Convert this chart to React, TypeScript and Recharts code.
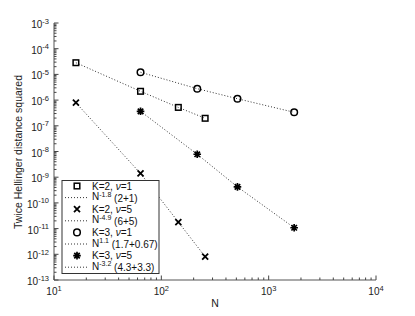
import { ScatterChart, Scatter, XAxis, YAxis } from "recharts";

// N values used for each K
const nK2 = [16, 64, 144, 256];
const nK3 = [64, 216, 512, 1728];

// twice Hellinger distance squared
const k2nu1 = [2.85e-5, 2.2e-6, 5.2e-7, 1.96e-7];
const k2nu5 = [7.9e-7, 1.4e-9, 1.8e-11, 8.1e-13];
const k3nu1 = [1.21e-5, 2.78e-6, 1.13e-6, 3.35e-7];
const k3nu5 = [3.66e-7, 7.8e-9, 4.2e-10, 1.08e-11];

// legend text
const seriesNames = ["K=2, |=1", "K=2, |=5", "K=3, |=1", "K=3, |=5"];
const fitExponents = ["-1.8", "-4.9", "1.1", "-3.2"];
const fitCoeffs = ["(2+1)", "(6+5)", "(1.7+0.67)", "(4.3+3.3)"];
const markerKinds = ["square", "cross", "circle", "star"];

// axis decades
const xDecades = [1, 2, 3, 4];
const yDecades = [-13, -12, -11, -10, -9, -8, -7, -6, -5, -4, -3];

const FONT = "'Liberation Sans', Arial, Helvetica, sans-serif";
const INK = "#000";

const logTicks = (decades: number[]) => {
  const out: number[] = [];
  decades.forEach((d, i) => {
    out.push(Math.pow(10, d));
    if (i < decades.length - 1) {
      for (let m = 2; m <= 9; m++) out.push(m * Math.pow(10, d));
    }
  });
  return out;
};
const xTicks = logTicks(xDecades);
const yTicks = logTicks(yDecades);

const isMajor = (v: number) => {
  const l = Math.log10(v);
  return Math.abs(l - Math.round(l)) < 1e-6;
};

const toData = (ns: number[], vs: number[]) => ns.map((n, i) => ({ N: n, v: vs[i] }));

const Marker = ({ cx, cy, kind }: { cx: number; cy: number; kind: string }) => {
  if (kind === "square")
    return <rect x={cx - 2.8} y={cy - 2.8} width={5.6} height={5.6} fill="none" stroke={INK} strokeWidth={1.5} />;
  if (kind === "circle") return <circle cx={cx} cy={cy} r={3.3} fill="none" stroke={INK} strokeWidth={1.5} />;
  if (kind === "cross")
    return (
      <path
        d={`M${cx - 3},${cy - 3}L${cx + 3},${cy + 3}M${cx - 3},${cy + 3}L${cx + 3},${cy - 3}`}
        stroke={INK}
        strokeWidth={1.8}
      />
    );
  const r = 3.8;
  const d = r * 0.72;
  return (
    <path
      d={`M${cx - r},${cy}L${cx + r},${cy}M${cx},${cy - r}L${cx},${cy + r}M${cx - d},${cy - d}L${cx + d},${cy + d}M${cx - d},${cy + d}L${cx + d},${cy - d}`}
      stroke={INK}
      strokeWidth={1.7}
    />
  );
};

const PowLabel = ({ x, y, exp, anchor }: any) => (
  <text x={x} y={y} textAnchor={anchor} fontFamily={FONT} fill="#222">
    <tspan fontSize={10}>10</tspan>
    <tspan fontSize={7.5} dy={-4.5}>
      {exp}
    </tspan>
  </text>
);

const BottomTick = (props: any) => {
  const { x, y, payload } = props;
  const major = isMajor(payload.value);
  return (
    <g>
      <line x1={x} y1={y} x2={x} y2={y - (major ? 4.5 : 2.5)} stroke="#444" />
      {major && <PowLabel x={x} y={y + 15} exp={Math.round(Math.log10(payload.value))} anchor="middle" />}
    </g>
  );
};

const TopTick = (props: any) => {
  const { x, y, payload } = props;
  const major = isMajor(payload.value);
  return <line x1={x} y1={y} x2={x} y2={y + (major ? 4.5 : 2.5)} stroke="#444" />;
};

const LeftTick = (props: any) => {
  const { x, y, payload } = props;
  const major = isMajor(payload.value);
  return (
    <g>
      <line x1={x} y1={y} x2={x + (major ? 4.5 : 2.5)} y2={y} stroke="#444" />
      {major && <PowLabel x={x - 5} y={y + 5} exp={Math.round(Math.log10(payload.value))} anchor="end" />}
    </g>
  );
};

const RightTick = (props: any) => {
  const { x, y, payload } = props;
  const major = isMajor(payload.value);
  return <line x1={x} y1={y} x2={x - (major ? 4.5 : 2.5)} y2={y} stroke="#444" />;
};

const fitLine = { stroke: "#333", strokeWidth: 1, strokeDasharray: "1 2" };

const SeriesName = ({ name, x, y }: { name: string; x: number; y: number }) => {
  const [pre, post] = name.split("|");
  return (
    <text x={x} y={y} fontFamily={FONT} fontSize={10} fill="#111">
      {pre}
      <tspan fontStyle="italic">ν</tspan>
      {post}
    </text>
  );
};

const LegendBox = () => {
  const left = 62;
  const top = 180.5;
  const rowH = 11.6;
  const rows: any[] = [];
  seriesNames.forEach((name, i) => {
    const yMark = top + 5.5 + rowH * 2 * i;
    const yFit = yMark + rowH;
    rows.push(
      <g key={i}>
        <Marker cx={77} cy={yMark} kind={markerKinds[i]} />
        <SeriesName name={name} x={92} y={yMark + 3.5} />
        <line x1={65} y1={yFit} x2={89} y2={yFit} {...fitLine} />
        <text x={92} y={yFit + 2.5} fontFamily={FONT} fill="#111">
          <tspan fontSize={10}>N</tspan>
          <tspan fontSize={7} dy={-3.3}>
            {fitExponents[i]}
          </tspan>
          <tspan fontSize={10} dy={4.8}>
            {" " + fitCoeffs[i]}
          </tspan>
        </text>
      </g>
    );
  });
  return (
    <svg width={415} height={316} style={{ position: "absolute", left: 0, top: 0, pointerEvents: "none" }}>
      <rect x={left} y={top} width={97} height={93} fill="#fff" stroke="#333" strokeWidth={1} />
      {rows}
      <text
        x={0}
        y={0}
        transform="translate(22,152) rotate(-90)"
        textAnchor="middle"
        fontFamily={FONT}
        fontSize={10.5}
        fill="#222"
      >
        Twice Hellinger distance squared
      </text>
      <text x={215} y={307} textAnchor="middle" fontFamily={FONT} fontSize={10.5} fill="#222">
        N
      </text>
    </svg>
  );
};

const series = [
  { key: "k2nu1", data: toData(nK2, k2nu1), kind: "square" },
  { key: "k2nu5", data: toData(nK2, k2nu5), kind: "cross" },
  { key: "k3nu1", data: toData(nK3, k3nu1), kind: "circle" },
  { key: "k3nu5", data: toData(nK3, k3nu5), kind: "star" },
];

export default function App() {
  return (
    <div style={{ position: "absolute", left: 0, top: 0, width: 415, height: 316, background: "#fff" }}>
      <ScatterChart width={415} height={316} margin={{ top: 23, right: 39, bottom: 0, left: 0 }}>
        <XAxis
          dataKey="N"
          type="number"
          scale="log"
          domain={[10, 10000]}
          allowDataOverflow
          ticks={xTicks}
          interval={0}
          height={36}
          tickSize={0}
          tickMargin={0}
          tickLine={false}
          axisLine={{ stroke: "#555" }}
          tick={<BottomTick />}
        />
        <XAxis
          xAxisId="top"
          orientation="top"
          type="number"
          scale="log"
          domain={[10, 10000]}
          allowDataOverflow
          ticks={xTicks}
          interval={0}
          height={0}
          tickSize={0}
          tickMargin={0}
          tickLine={false}
          axisLine={{ stroke: "#444" }}
          tick={<TopTick />}
        />
        <YAxis
          dataKey="v"
          type="number"
          scale="log"
          domain={[1e-13, 1e-3]}
          allowDataOverflow
          ticks={yTicks}
          interval={0}
          width={54}
          tickSize={0}
          tickMargin={0}
          tickLine={false}
          axisLine={{ stroke: "#555" }}
          tick={<LeftTick />}
        />
        <YAxis
          yAxisId="right"
          orientation="right"
          type="number"
          scale="log"
          domain={[1e-13, 1e-3]}
          allowDataOverflow
          ticks={yTicks}
          interval={0}
          width={0}
          tickSize={0}
          tickMargin={0}
          tickLine={false}
          axisLine={{ stroke: "#555" }}
          tick={<RightTick />}
        />
        {series.map((s) => (
          <Scatter
            key={s.key}
            data={s.data}
            fill={INK}
            line={fitLine}
            lineType="joint"
            isAnimationActive={false}
            shape={(p: any) => <Marker cx={p.cx} cy={p.cy} kind={s.kind} />}
          />
        ))}
      </ScatterChart>
      <LegendBox />
    </div>
  );
}
